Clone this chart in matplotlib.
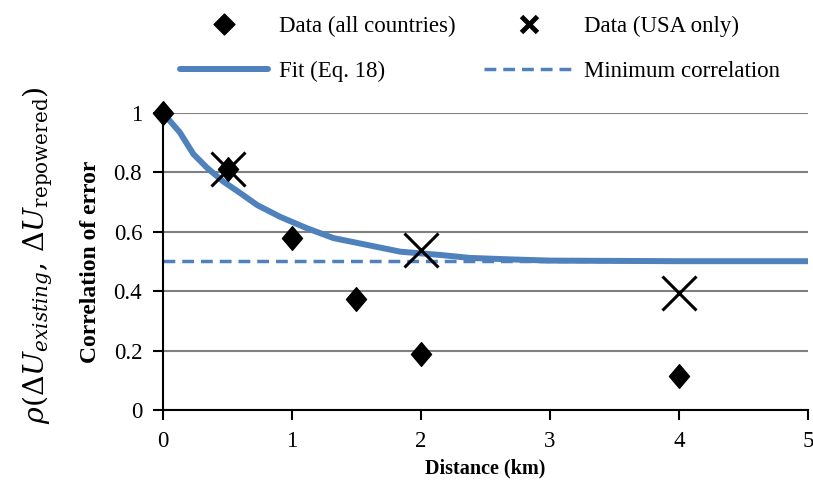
import numpy as np
import matplotlib.pyplot as plt
from matplotlib.path import Path
from matplotlib.lines import Line2D

# -----------------------------
# DATA
# -----------------------------
all_dist = [0, 0.5, 1, 1.5, 2, 4]
all_corr = [1.0, 0.81, 0.58, 0.374, 0.19, 0.115]

usa_dist = [0.5, 2, 4]
usa_corr = [0.81, 0.54, 0.394]

fit_dist = [0, 0.13, 0.235, 0.34, 0.465, 0.6, 0.73, 0.91, 1.11, 1.32, 1.58, 1.84,
            2.15, 2.38, 2.7, 3.0, 3.5, 4.0, 4.5, 5.0]
fit_corr = [1.0, 0.935, 0.862, 0.816, 0.77, 0.73, 0.69, 0.65, 0.613, 0.579, 0.556, 0.533,
            0.522, 0.512, 0.507, 0.503, 0.502, 0.501, 0.501, 0.501]

min_corr = 0.5

# -----------------------------
# PLOT
# -----------------------------
plt.rcParams['font.family'] = 'Liberation Serif'
plt.rcParams['mathtext.fontset'] = 'dejavuserif'

blue = '#4F81BD'


def diamond_path(w):
    return Path([(0, 1), (w, 0), (0, -1), (-w, 0), (0, 1)],
                [Path.MOVETO, Path.LINETO, Path.LINETO, Path.LINETO, Path.CLOSEPOLY])


fig = plt.figure(figsize=(8.13, 4.86), dpi=100)
ax = fig.add_axes([0.2005, 0.1564, 0.7933, 0.6111])

ax.plot(fit_dist, fit_corr, color=blue, lw=4.3, solid_capstyle='round',
        solid_joinstyle='round', zorder=3)
ax.axhline(min_corr, color=blue, lw=2.5, ls=(0, (3.4, 2)), zorder=2)
ax.plot(all_dist, all_corr, ls='none', marker=diamond_path(0.85), ms=17, color='black',
        clip_on=False, zorder=4)
ax.plot(usa_dist, usa_corr, ls='none', marker='x', ms=25, mew=2.2, color='black',
        clip_on=False, zorder=5)

ax.set_xlim(0, 5)
ax.set_ylim(0, 1)
ax.set_xticks(range(6))
ax.set_yticks([0, 0.2, 0.4, 0.6, 0.8, 1])
ax.set_yticklabels(['0', '0.2', '0.4', '0.6', '0.8', '1'])
ax.yaxis.grid(True, color='#808080', lw=1.5)
ax.set_axisbelow(True)
for s in ['top', 'right']:
    ax.spines[s].set_visible(False)
for s in ['left', 'bottom']:
    ax.spines[s].set_linewidth(1.5)
ax.tick_params(direction='out', length=7, width=1.5, labelsize=16.5)
ax.tick_params(axis='y', pad=8)
ax.tick_params(axis='x', pad=8)

ax.set_xlabel('Distance (km)', fontsize=14.5, fontweight='bold', labelpad=5)
ax.set_ylabel('Correlation of error', fontsize=17, fontweight='bold', labelpad=9)
fig.text(0.047, 0.475,
         r'$\rho(\Delta U_{existing},\,\Delta U_{\mathrm{repowered}})$',
         rotation=90, ha='center', va='center', fontsize=20.5)

handles = [
    Line2D([], [], ls='none', marker=diamond_path(1.0), ms=15, color='black'),
    Line2D([], [], color=blue, lw=4.3, solid_capstyle='round'),
    Line2D([], [], ls='none', marker='x', ms=12, mew=3.5, color='black'),
    Line2D([], [], color=blue, lw=2.5, ls=(0, (3.4, 2))),
]
labels = ['Data (all countries)', 'Fit (Eq. 18)', 'Data (USA only)', 'Minimum correlation']
fig.legend(handles, labels, ncol=2, frameon=False, fontsize=16.5,
           loc='upper left', bbox_to_anchor=(0.196, 1.01),
           handlelength=3.85, handletextpad=0.48, columnspacing=1.25,
           labelspacing=1.05)

plt.savefig('out.png', dpi=100)
plt.close()
